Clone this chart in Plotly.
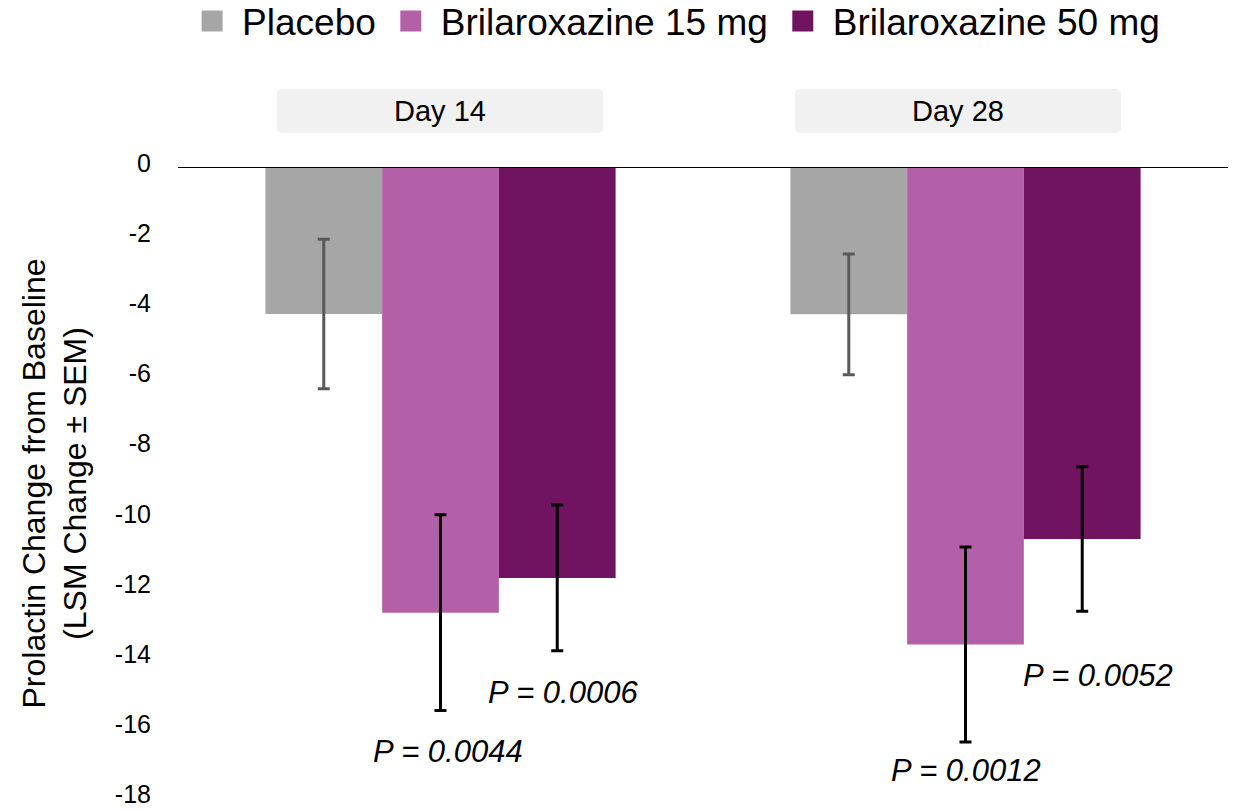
import plotly.graph_objects as go

days = ["Day 14", "Day 28"]
group_names = ["Placebo", "Brilaroxazine 15 mg", "Brilaroxazine 50 mg"]

placebo_mean = [-4.19, -4.20]
placebo_sem = [2.13, 1.72]
bx15_mean = [-12.70, -13.61]
bx15_sem = [2.79, 2.78]
bx50_mean = [-11.71, -10.60]
bx50_sem = [2.08, 2.06]

p_15 = ["P = 0.0044", "P = 0.0012"]
p_50 = ["P = 0.0006", "P = 0.0052"]

y_ticks = [0, -2, -4, -6, -8, -10, -12, -14, -16, -18]

FONT = "Liberation Sans, Arial, sans-serif"
colors = ["#A6A6A6", "#B460A8", "#701462"]
err_colors = ["#595959", "#000000", "#000000"]

fig = go.Figure()
for name, mean, sem, col, ecol in zip(
    group_names,
    [placebo_mean, bx15_mean, bx50_mean],
    [placebo_sem, bx15_sem, bx50_sem],
    colors,
    err_colors,
):
    fig.add_trace(
        go.Bar(
            x=days,
            y=mean,
            name=name,
            showlegend=False,
            marker=dict(color=col, line=dict(width=0)),
            error_y=dict(type="data", array=sem, visible=True, color=ecol,
                         thickness=3, width=6),
        )
    )

# legend entries with larger square symbols
for name, col in zip(group_names, colors):
    fig.add_trace(go.Scatter(
        x=[None], y=[None], mode="markers", name=name,
        marker=dict(symbol="square", size=16, color=col,
                    line=dict(color=col, width=5)),
    ))

# P-value annotations (text positions)
p15_pos = [(0.014, -16.66), (0.0, -17.2)]
p50_pos = [(0.233, -14.98), (0.252, -14.5)]
annotations = []
for i in range(len(days)):
    for txt, (dx, yy) in [(p_15[i], p15_pos[i]), (p_50[i], p50_pos[i])]:
        annotations.append(dict(
            x=i + dx, y=yy, xref="x", yref="y", text=f"<i>{txt}</i>",
            showarrow=False, font=dict(family=FONT, size=31, color="#000000"),
            xanchor="center", yanchor="middle"))

# strip labels (rounded boxes + text)
shapes = []
strip_centers = [0.2495, 0.7429]
bw, y0, y1 = 0.3105, 1.0538, 1.1234
rx, ry = 0.0057, 0.0095
for d, cx in zip(days, strip_centers):
    x0, x1 = cx - bw / 2, cx + bw / 2
    path = (f"M{x0+rx},{y1} L{x1-rx},{y1} Q{x1},{y1} {x1},{y1-ry} "
            f"L{x1},{y0+ry} Q{x1},{y0} {x1-rx},{y0} L{x0+rx},{y0} "
            f"Q{x0},{y0} {x0},{y0+ry} L{x0},{y1-ry} Q{x0},{y1} {x0+rx},{y1} Z")
    shapes.append(dict(type="path", xref="paper", yref="paper", path=path,
                       fillcolor="#F1F1F1", line=dict(width=0), layer="below"))
    annotations.append(dict(
        x=cx, y=(y0 + y1) / 2, xref="paper", yref="paper", text=d, showarrow=False,
        font=dict(family=FONT, size=29, color="#000000"),
        xanchor="center", yanchor="middle"))

shapes.append(dict(type="line", xref="paper", yref="y", x0=0, x1=1, y0=0, y1=0,
                   line=dict(color="#000000", width=2), layer="above"))

fig.update_layout(
    width=1240,
    height=811,
    margin=dict(l=178, r=12, t=167, b=11, autoexpand=False),
    plot_bgcolor="white",
    paper_bgcolor="white",
    barmode="group",
    bargap=0.333,
    bargroupgap=0,
    font=dict(family=FONT, color="#000000"),
    legend=dict(
        orientation="h",
        x=0.472, xanchor="center",
        y=1.279, yanchor="top",
        font=dict(family=FONT, size=37, color="#000000"),
        itemwidth=50,
        traceorder="normal",
    ),
    annotations=annotations,
    shapes=shapes,
    xaxis=dict(
        range=[-0.5, 1.5], showticklabels=False, showline=False,
        showgrid=False, zeroline=False, ticks="",
    ),
    yaxis=dict(
        range=[-18.04, 0], tickvals=y_ticks, ticktext=[str(v) for v in y_ticks],
        showgrid=False, zeroline=False, showline=False, ticks="",
        ticklabelstandoff=26, ticklabeloverflow="allow", ticklabelshift=-4,
        tickfont=dict(family=FONT, size=25, color="#000000"),
        title=dict(text="Prolactin Change from Baseline<br>(LSM Change \u00b1 SEM)",
                   font=dict(family=FONT, size=32, color="#000000"), standoff=18),
    ),
)

fig.write_html("out.html")
